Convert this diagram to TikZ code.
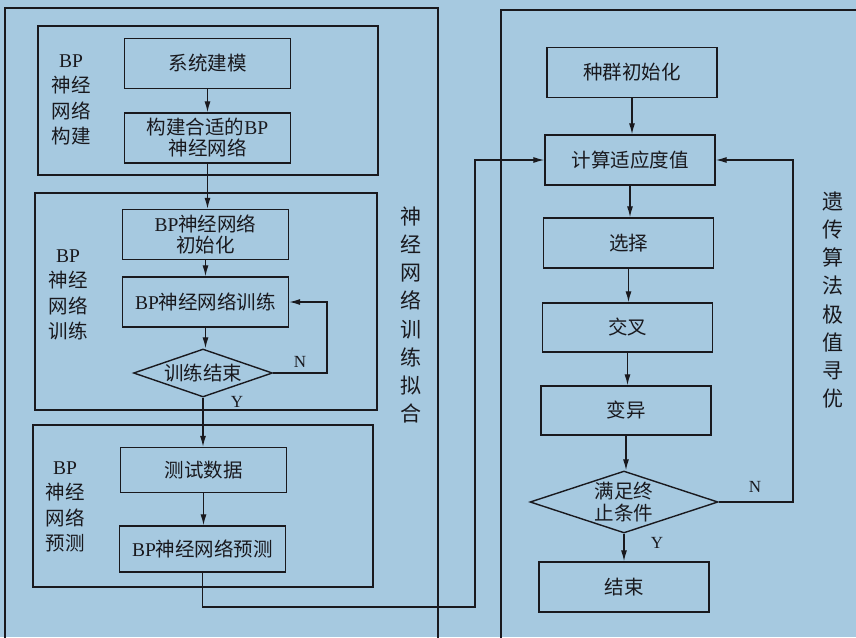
\documentclass[tikz,border=0pt]{standalone}
\usepackage{fontspec}
\setmainfont{Liberation Serif}
\newfontfamily\cjk{Noto Sans CJK SC}
\usetikzlibrary{arrows.meta,shapes.geometric}
\definecolor{bg}{RGB}{166,201,224}
\definecolor{ink}{RGB}{25,25,30}
\begin{document}
\begin{tikzpicture}[x=1pt,y=-1pt,
  every node/.style={text=ink},
  frame/.style={draw=ink,line width=1.4pt},
  box/.style={draw=ink,line width=1.4pt,minimum width=166pt,minimum height=50pt,inner sep=0pt,align=center,font=\cjk\fontsize{19.5}{21}\selectfont},
  dia/.style={draw=ink,diamond,line width=1.4pt,inner sep=0pt},
  txt/.style={font=\cjk\fontsize{19.5}{22}\selectfont,align=center,inner sep=0pt},
  side/.style={font=\cjk\fontsize{19.5}{25.5}\selectfont,align=center},
  vert/.style={font=\cjk\fontsize{21}{28.2}\selectfont,align=center},
  yn/.style={font=\fontsize{17}{18}\selectfont},
  conn/.style={draw=ink,line width=1.3pt},
  arr/.style={conn,-{Latex[length=11pt,width=6pt]}}
]
\useasboundingbox (0,0) rectangle (856,637);
\fill[bg] (0,0) rectangle (856,637);
\clip (0,0) rectangle (856,637);

% frames
\draw[frame] (5,8) rectangle (438,700);
\draw[frame] (501,10) rectangle (900,700);
\draw[frame] (38,26) rectangle (378,175);
\draw[frame] (35,193) rectangle (377,410);
\draw[frame] (33,425) rectangle (373,587);

% left chain
\node[box] (n1) at (207.5,63.5) {系统建模};
\node[box] (n2) at (207.5,138) {构建合适的\textrm{BP}\\神经网络};
\node[box] (n3) at (205.5,234.5) {\textrm{BP}神经网络\\初始化};
\node[box] (n4) at (205.5,302) {\textrm{BP}神经网络训练};
\node[dia, minimum width=139pt, minimum height=48pt, label={[txt]center:训练结束}] (d1) at (203,373) {};
\node[box,minimum height=45pt] (n5) at (203.5,470) {测试数据};
\node[box,minimum height=46pt] (n6) at (202.5,549) {\textrm{BP}神经网络预测};

% right chain
\node[box,minimum width=170pt] (r1) at (632,72.5) {种群初始化};
\node[box,minimum width=170pt] (r2) at (630,160) {计算适应度值};
\node[box,minimum width=170pt] (r3) at (628.5,243) {选择};
\node[box,minimum width=170pt,minimum height=49pt] (r4) at (627.5,327.5) {交叉};
\node[box,minimum width=170pt,minimum height=49pt] (r5) at (626,410.5) {变异};
\node[dia, minimum width=188pt, minimum height=62pt, label={[txt]center:满足终\\止条件}] (d2) at (624,502) {};
\node[box,minimum width=170pt] (r6) at (624,587) {结束};

% side labels
\node[side] (s1) at (71,100) {\textrm{BP}\\神经\\网络\\构建};
\node[side] (s2) at (68,295) {\textrm{BP}\\神经\\网络\\训练};
\node[side] (s3) at (65,507) {\textrm{BP}\\神经\\网络\\预测};
\node[vert] (v1) at (411,315) {神\\经\\网\\络\\训\\练\\拟\\合};
\node[vert] (v2) at (833,300) {遗\\传\\算\\法\\极\\值\\寻\\优};

% Y/N labels
\node[yn] (nl1) at (300,362) {N};
\node[yn] (yl1) at (237,402) {Y};
\node[yn] (nl2) at (755,487) {N};
\node[yn] (yl2) at (657,543) {Y};

% connectors left
\draw[arr] (n1.south) -- (n1.south |- n2.north);
\draw[arr] (n2.south) -- (n2.south |- n3.north);
\draw[arr] (n3.south) -- (n3.south |- n4.north);
\draw[arr] (n4.south) -- (n4.south |- d1.north);
\draw[arr] (d1.south) -- (d1.south |- n5.north);
\draw[arr] (n5.south) -- (n5.south |- n6.north);
\coordinate (c0) at (327,373);
\draw[arr] (d1.east) -- (c0) |- (n4.east);

% long link
\coordinate (c1) at (475,607);
\draw[arr] (n6.south) |- (c1) |- (r2.west);

% connectors right
\draw[arr] (r1.south) -- (r1.south |- r2.north);
\draw[arr] (r2.south) -- (r2.south |- r3.north);
\draw[arr] (r3.south) -- (r3.south |- r4.north);
\draw[arr] (r4.south) -- (r4.south |- r5.north);
\draw[arr] (r5.south) -- (r5.south |- d2.north);
\draw[arr] (d2.south) -- (d2.south |- r6.north);
\coordinate (c2) at (793,502);
\draw[arr] (d2.east) -- (c2) |- (r2.east);
\end{tikzpicture}
\end{document}
